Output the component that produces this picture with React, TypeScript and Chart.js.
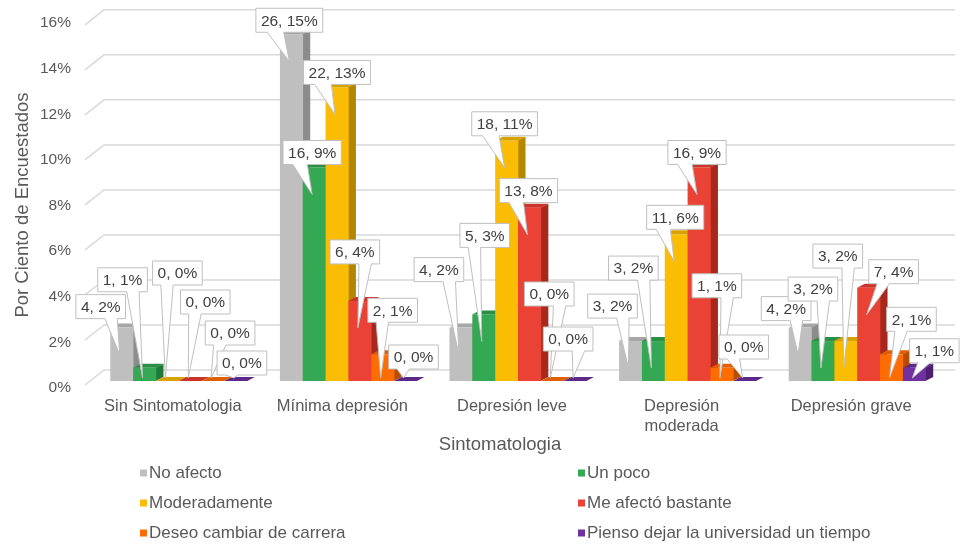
import React, { useEffect, useRef } from 'react';
import { Chart, registerables } from 'chart.js';

Chart.register(...registerables);

// ---------- data ----------
const categories: (string | string[])[] = [
  'Sin Sintomatologia',
  'Mínima depresión',
  'Depresión leve',
  ['Depresión', 'moderada'],
  'Depresión grave',
];
const seriesNames = [
  'No afecto',
  'Un poco',
  'Moderadamente',
  'Me afectó bastante',
  'Deseo cambiar de carrera',
  'Pienso dejar la universidad un tiempo',
];
// counts (first number of each label)
const noAfectoCount = [4, 26, 4, 3, 4];
const unPocoCount = [1, 16, 5, 3, 3];
const moderadamenteCount = [0, 22, 18, 11, 3];
const bastanteCount = [0, 6, 13, 16, 7];
const cambiarCount = [0, 2, 0, 1, 2];
const dejarCount = [0, 0, 0, 0, 1];
// percent of respondents (bar heights)
const noAfectoPct = [2.34, 15.2, 2.34, 1.75, 2.34];
const unPocoPct = [0.58, 9.36, 2.92, 1.75, 1.75];
const moderadamentePct = [0, 12.87, 10.53, 6.43, 1.75];
const bastantePct = [0, 3.51, 7.6, 9.36, 4.09];
const cambiarPct = [0, 1.17, 0, 0.58, 1.17];
const dejarPct = [0, 0, 0, 0, 0.58];

const yTicks = [0, 2, 4, 6, 8, 10, 12, 14, 16];
const xTitle = 'Sintomatologia';
const yTitle = 'Por Ciento de Encuestados';

const counts = [noAfectoCount, unPocoCount, moderadamenteCount, bastanteCount, cambiarCount, dejarCount];
const pcts = [noAfectoPct, unPocoPct, moderadamentePct, bastantePct, cambiarPct, dejarPct];

// ---------- styles / layout ----------
const FONT = '"Liberation Sans", Arial, Helvetica, sans-serif';
const TEXT = '#595959';
const GRID = '#d9d9d9';
const frontColors = ['#bfbfbf', '#34a853', '#fbbc04', '#ea4335', '#ff6d01', '#7030a0'];
const sideColors = ['#8c8c8c', '#1f7a38', '#b38600', '#a8281d', '#b84d00', '#4b1f6e'];
const topColors = ['#a6a6a6', '#2a8f45', '#d9a203', '#c9352a', '#e05f00', '#5e2888'];
const DEPTH_X = 7.5;
const DEPTH_Y = 4;

// callout box offsets relative to bar top-centre [dx, dy] per series per category
const labelOffsets: number[][][] = [
  [[-21, -21], [-2, -14], [-22, -58], [-18, -35], [-14, -19]],
  [[-22, -88], [-2, -15], [1, -79], [-20, -73], [-10, -52]],
  [[10, -108], [0, -15], [-2, -17], [-1, -17], [-8, -85]],
  [[15, -79], [-5, -49], [-1, -17], [-2, -15], [25, -16]],
  [[17, -48], [10, -44], [-3, -87], [-5, -82], [20, -35]],
  [[6, -18], [8, -24], [-7, -42], [-1, -34], [20, -17]],
];
const legendCols = [140, 578];
const legendRows = [473, 503, 533];

function calloutPath(ctx: CanvasRenderingContext2D, l: number, t: number, w: number, h: number, tx: number, ty: number) {
  const r = l + w, b = t + h;
  const hc = l + w / 2, vc = t + h / 2;
  const dxPos = tx - hc, dyPos = ty - vc;
  const dq = (dxPos * h) / w;
  const dz = Math.abs(dyPos) - Math.abs(dq);
  const xg1 = dxPos > 0 ? 7 : 2, xg2 = dxPos > 0 ? 10 : 5;
  const yg1 = dyPos > 0 ? 7 : 2, yg2 = dyPos > 0 ? 10 : 5;
  const x1 = l + (w * xg1) / 12, x2 = l + (w * xg2) / 12;
  const y1 = t + (h * yg1) / 12, y2 = t + (h * yg2) / 12;
  const inside = tx >= l && tx <= r && ty >= t && ty <= b;
  let side = '';
  if (!inside) side = dz > 0 ? (dyPos > 0 ? 'b' : 't') : dxPos > 0 ? 'r' : 'l';
  ctx.beginPath();
  ctx.moveTo(l, t);
  if (side === 't') { ctx.lineTo(x1, t); ctx.lineTo(tx, ty); ctx.lineTo(x2, t); }
  ctx.lineTo(r, t);
  if (side === 'r') { ctx.lineTo(r, y1); ctx.lineTo(tx, ty); ctx.lineTo(r, y2); }
  ctx.lineTo(r, b);
  if (side === 'b') { ctx.lineTo(x2, b); ctx.lineTo(tx, ty); ctx.lineTo(x1, b); }
  ctx.lineTo(l, b);
  if (side === 'l') { ctx.lineTo(l, y2); ctx.lineTo(tx, ty); ctx.lineTo(l, y1); }
  ctx.closePath();
}

const threeDPlugin = {
  id: 'threeDBars',
  beforeDatasetsDraw(chart: any) {
    const { ctx, chartArea, scales } = chart;
    const y = scales.y;
    ctx.save();
    ctx.strokeStyle = GRID;
    ctx.lineWidth = 1.5;
    yTicks.forEach((v) => {
      const gy = y.getPixelForValue(v) - 11 + 0.3 * v;
      ctx.beginPath();
      ctx.moveTo(chartArea.left - 9, gy + 15);
      ctx.lineTo(chartArea.left + 10, gy);
      ctx.lineTo(chartArea.right + 13, gy);
      ctx.stroke();
    });
    ctx.restore();
  },
  afterDatasetsDraw(chart: any) {
    const { ctx } = chart;
    const nCat = categories.length;
    const nSer = seriesNames.length;
    const metas = seriesNames.map((_, i) => chart.getDatasetMeta(i));
    ctx.save();
    for (let k = 0; k < nCat; k++) {
      for (let s = 0; s < nSer; s++) {
        const el = metas[s].data[k];
        const { x, y, base, width } = el.getProps(['x', 'y', 'base', 'width'], true);
        const l = x - width / 2, r = x + width / 2;
        const top = Math.min(y, base);
        if (base - top > 0.5) {
          ctx.fillStyle = sideColors[s];
          ctx.beginPath();
          ctx.moveTo(r - 0.5, top);
          ctx.lineTo(r + DEPTH_X, top - DEPTH_Y);
          ctx.lineTo(r + DEPTH_X, base - DEPTH_Y);
          ctx.lineTo(r - 0.5, base);
          ctx.closePath();
          ctx.fill();
        }
        ctx.fillStyle = topColors[s];
        ctx.beginPath();
        ctx.moveTo(l, top);
        ctx.lineTo(l + DEPTH_X, top - DEPTH_Y);
        ctx.lineTo(r + DEPTH_X, top - DEPTH_Y);
        ctx.lineTo(r, top);
        ctx.closePath();
        ctx.fill();
        if (base - top > 0.5) {
          ctx.fillStyle = frontColors[s];
          ctx.fillRect(l, top, width + 0.3, base - top);
        }
      }
    }
    ctx.font = `15.5px ${FONT}`;
    ctx.textAlign = 'center';
    ctx.textBaseline = 'middle';
    for (let k = 0; k < nCat; k++) {
      for (let s = 0; s < nSer; s++) {
        const el = metas[s].data[k];
        const { x, y, base } = el.getProps(['x', 'y', 'base'], true);
        const text = `${counts[s][k]}, ${Math.round(pcts[s][k])}%`;
        const w = ctx.measureText(text).width + 10;
        const h = 24;
        const [dx, dy] = labelOffsets[s][k];
        const cx = x + dx, cy = y + dy;
        const tx = x - 2;
        const ty = Math.min(y + 27, base - 3);
        calloutPath(ctx, cx - w / 2, cy - h / 2, w, h, tx, ty);
        ctx.fillStyle = '#ffffff';
        ctx.fill();
        ctx.strokeStyle = '#bfbfbf';
        ctx.lineWidth = 1;
        ctx.stroke();
        ctx.fillStyle = '#404040';
        ctx.fillText(text, cx, cy + 1);
      }
    }
    ctx.restore();
  },
  afterDraw(chart: any) {
    const { ctx, chartArea } = chart;
    ctx.save();
    ctx.fillStyle = TEXT;
    ctx.font = `18.5px ${FONT}`;
    ctx.textAlign = 'center';
    ctx.textBaseline = 'middle';
    ctx.fillText(xTitle, chartArea.left + 406, 445);
    ctx.save();
    ctx.translate(23, 205);
    ctx.rotate(-Math.PI / 2);
    ctx.fillText(yTitle, 0, 0);
    ctx.restore();
    ctx.font = `17px ${FONT}`;
    ctx.textAlign = 'left';
    seriesNames.forEach((name, i) => {
      const mx = legendCols[i % 2];
      const my = legendRows[Math.floor(i / 2)];
      ctx.fillStyle = frontColors[i];
      ctx.fillRect(mx, my - 3.5, 7, 7);
      ctx.fillStyle = TEXT;
      ctx.fillText(name, mx + 9, my);
    });
    ctx.restore();
  },
};

export default function App() {
  const ref = useRef<HTMLCanvasElement | null>(null);
  useEffect(() => {
    document.body.style.margin = '0';
    const canvas = ref.current;
    if (!canvas) return;
    const chart = new Chart(canvas, {
      type: 'bar',
      data: {
        labels: categories as any,
        datasets: seriesNames.map((name, i) => ({
          label: name,
          data: pcts[i],
          backgroundColor: 'rgba(0,0,0,0)',
          borderWidth: 0,
          categoryPercentage: 0.808,
          barPercentage: 1,
        })),
      },
      options: {
        responsive: false,
        animation: false,
        devicePixelRatio: 1,
        events: [],
        layout: { padding: { left: 17, right: 18, top: 16, bottom: 95 } },
        plugins: { legend: { display: false }, tooltip: { enabled: false } },
        scales: {
          x: {
            grid: { display: false, drawTicks: false },
            border: { display: false },
            ticks: {
              color: TEXT,
              font: { family: FONT, size: 16.5, lineHeight: 20 / 16.5 },
              padding: 15,
              labelOffset: -6,
              maxRotation: 0,
              autoSkip: false,
            },
          },
          y: {
            min: 0,
            max: 16,
            afterBuildTicks: (axis: any) => {
              axis.ticks = yTicks.map((v) => ({ value: v }));
            },
            afterFit: (axis: any) => {
              axis.paddingTop = 0;
              axis.paddingBottom = 0;
            },
            grid: { display: false, drawTicks: false },
            border: { display: false },
            ticks: {
              color: TEXT,
              font: { family: FONT, size: 15.5 },
              padding: 23,
              labelOffset: 7,
              callback: (v: any) => `${v}%`,
            },
          },
        },
      },
      plugins: [threeDPlugin],
    });
    return () => chart.destroy();
  }, []);
  return (
    <div>
      <canvas ref={ref} width={960} height={546} style={{ display: 'block', width: '960px', height: '546px' }} />
    </div>
  );
}
